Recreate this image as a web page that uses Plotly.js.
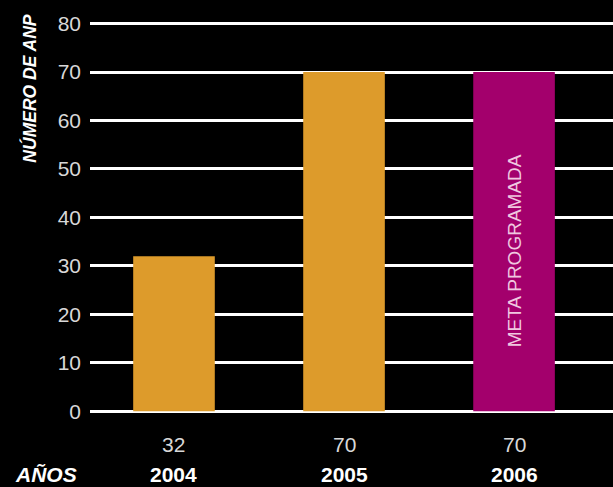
<!DOCTYPE html>
<html>
<head>
<meta charset="utf-8">
<script src="https://cdn.plot.ly/plotly-3.0.1.min.js"></script>
<style>html,body{margin:0;padding:0;background:#000;}#chart{width:613px;height:487px;}</style>
</head>
<body>
<div id="chart"></div>
<script>
const years = ['2004', '2005', '2006'];
const values = [32, 70, 70];
const valueLabels = ['32', '70', '70'];
const barColors = ['#DD9B2B', '#DD9B2B', '#A3006C'];
const yTicks = [0, 10, 20, 30, 40, 50, 60, 70, 80];
const metaLabel = 'META PROGRAMADA';
const metaYear = '2006';
const metaLabelY = 33;
const yTitle = 'NÚMERO DE ANP';
const xTitle = 'AÑOS';

const FONT = '"Liberation Sans", Arial, Helvetica, sans-serif';

const annotations = [];
years.forEach((yr, i) => {
  annotations.push({x: i, xref: 'x', y: -0.07, yref: 'paper', yanchor: 'middle', xanchor: 'center',
    text: valueLabels[i], showarrow: false, font: {family: FONT, size: 21, color: '#d8d8d8'}});
  annotations.push({x: i, xref: 'x', y: -0.145, yref: 'paper', yanchor: 'middle', xanchor: 'center',
    text: '<b>' + yr + '</b>', showarrow: false, font: {family: FONT, size: 21, color: '#ffffff'}});
});
annotations.push({x: -0.085, xref: 'paper', xanchor: 'center', y: -0.145, yref: 'paper', yanchor: 'middle',
  text: '<b><i>' + xTitle + '</i></b>', showarrow: false, font: {family: FONT, size: 21, color: '#ffffff'}});
annotations.push({x: -0.115, xref: 'paper', xanchor: 'center', y: 1.003, yref: 'paper', yanchor: 'top',
  text: '<b><i>' + yTitle + '</i></b>', textangle: -90, showarrow: false, font: {family: FONT, size: 17.5, color: '#ffffff'}});
annotations.push({x: years.indexOf(metaYear), xref: 'x', y: metaLabelY, yref: 'y', xanchor: 'center', yanchor: 'middle',
  text: metaLabel, textangle: -90, showarrow: false, font: {family: FONT, size: 19, color: '#f0c8e0'}});

const data = [{
  type: 'bar', x: years, y: values, width: 0.48,
  marker: {color: barColors, line: {width: 0}},
  hoverinfo: 'none'
}];

const layout = {
  width: 613, height: 487,
  paper_bgcolor: '#000', plot_bgcolor: '#000',
  margin: {l: 90, r: 0, t: 14, b: 71},
  showlegend: false,
  xaxis: {type: 'category', range: [-0.494, 2.582], showticklabels: false, showgrid: false, zeroline: false, showline: false, ticks: ''},
  yaxis: {range: [-1, 82], tickvals: yTicks, ticktext: yTicks.map(String), showgrid: true, gridcolor: '#ffffff', gridwidth: 3,
    zeroline: false, showline: false, ticks: '', ticklabelstandoff: 8,
    tickfont: {family: FONT, size: 21, color: '#d8d8d8'}},
  annotations: annotations
};

Plotly.newPlot('chart', data, layout, {staticPlot: true, displayModeBar: false});
</script>
</body>
</html>
